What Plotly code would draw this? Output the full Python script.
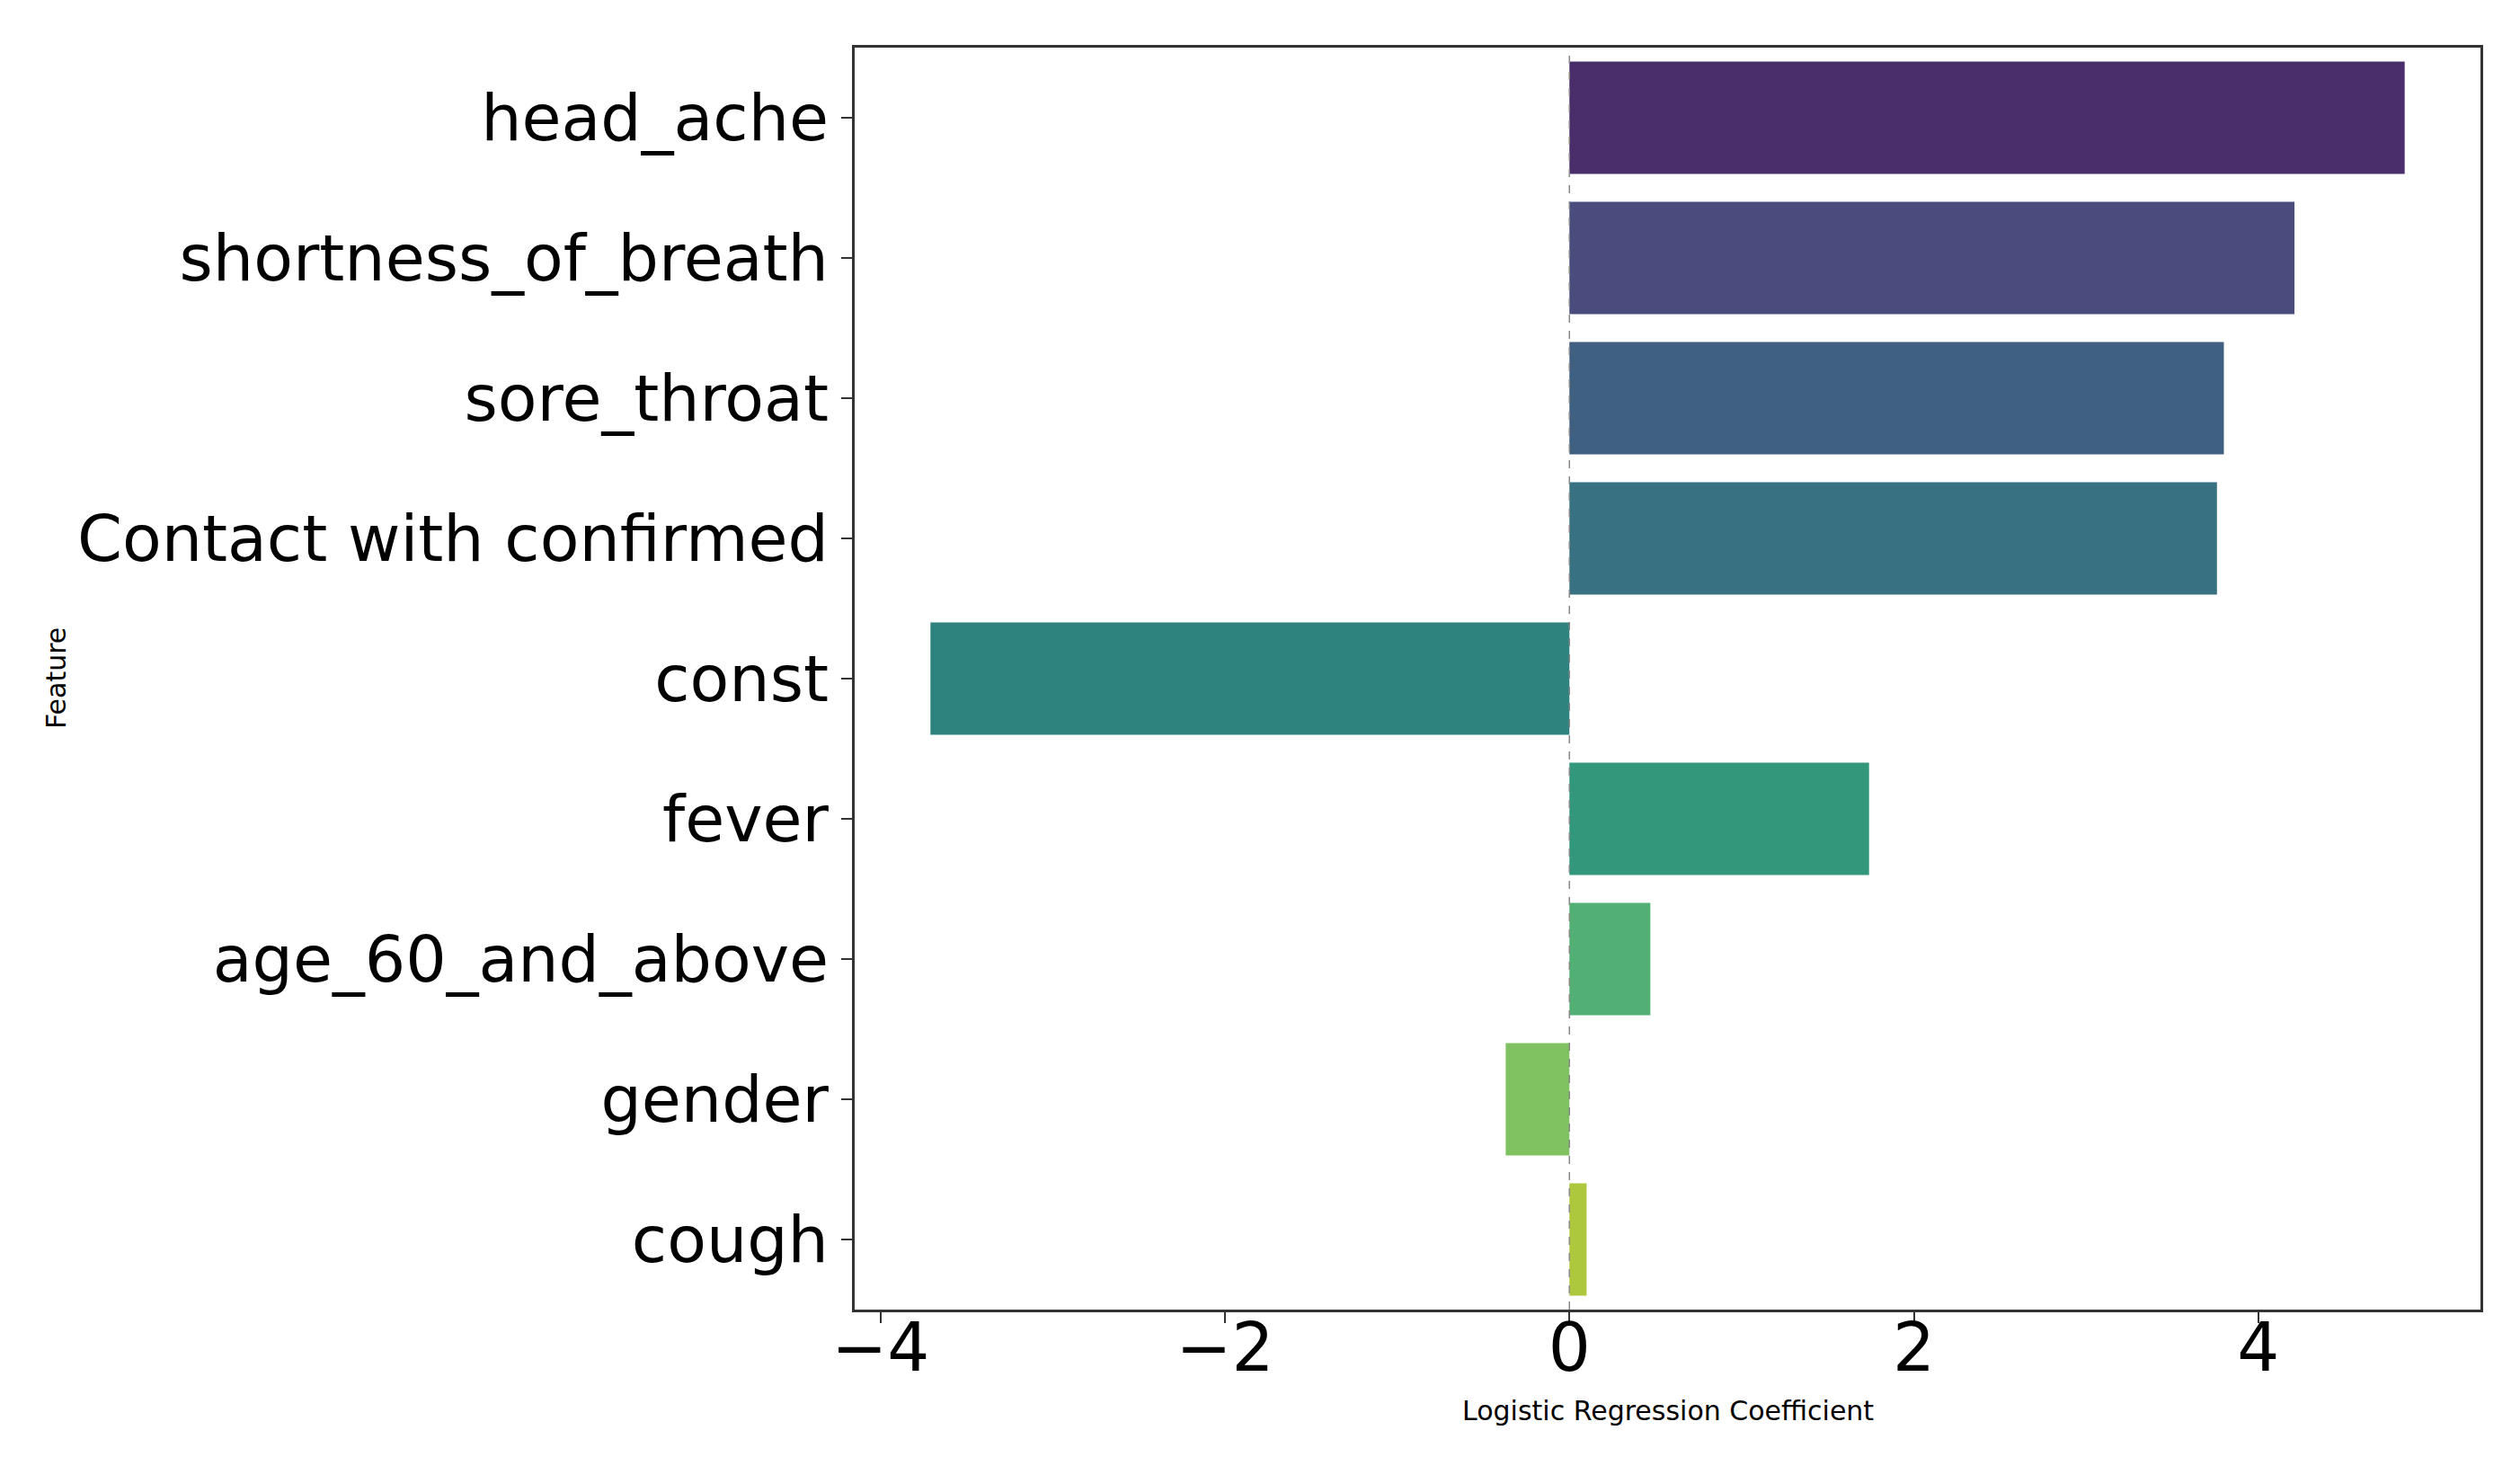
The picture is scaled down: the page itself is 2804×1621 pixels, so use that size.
import colorsys
import plotly.graph_objects as go

features = ["head_ache", "shortness_of_breath", "sore_throat", "Contact with confirmed",
            "const", "fever", "age_60_and_above", "gender", "cough"]
coefficients = [4.85, 4.21, 3.80, 3.76, -3.71, 1.74, 0.47, -0.37, 0.10]
x_ticks = [-4, -2, 0, 2, 4]
x_tick_labels = ["\u22124", "\u22122", "0", "2", "4"]

# viridis sampled like seaborn (9 colours), desaturated to 0.75
viridis_hex = ["#482475", "#414487", "#355f8d", "#2a788e", "#21918c",
               "#22a884", "#44bf70", "#7ad151", "#bddf26"]


def desat(h, p=0.75):
    r, g, b = (int(h[i:i + 2], 16) / 255 for i in (1, 3, 5))
    hh, ll, ss = colorsys.rgb_to_hls(r, g, b)
    r, g, b = colorsys.hls_to_rgb(hh, ll, ss * p)
    return "#%02x%02x%02x" % (round(r * 255), round(g * 255), round(b * 255))


colors = [desat(c) for c in viridis_hex]

fig = go.Figure()
fig.add_trace(go.Bar(
    x=coefficients, y=features, orientation="h",
    marker=dict(color=colors, line=dict(width=0)),
    width=0.8,
))

fig.add_shape(type="line", xref="x", yref="paper", x0=0, x1=0, y0=0, y1=1,
              line=dict(color="#888888", width=1.5, dash="dash"), layer="above")

fig.add_annotation(text="Logistic Regression Coefficient", xref="paper", yref="paper",
                   x=0.5, y=-0.0798, xanchor="center", yanchor="middle",
                   showarrow=False, font=dict(size=30, family="DejaVu Sans", color="black"))
fig.add_annotation(text="Feature", xref="paper", yref="paper", textangle=-90,
                   x=-0.4914, y=0.5, xanchor="center", yanchor="middle",
                   showarrow=False, font=dict(size=30, family="DejaVu Sans", color="black"))

fig.update_layout(
    width=2804, height=1621,
    margin=dict(l=943, r=52, t=45, b=172),
    plot_bgcolor="white", paper_bgcolor="white",
    showlegend=False,
    font=dict(family="DejaVu Sans", color="black"),
    bargap=0.2,
)
fig.update_xaxes(
    range=[-4.15, 5.29],
    tickvals=x_ticks, ticktext=x_tick_labels,
    tickfont=dict(size=74, family="DejaVu Sans"),
    ticks="outside", ticklen=12, tickwidth=2, tickcolor="#333333",
    ticklabelstandoff=-36,
    showline=True, linecolor="#333333", linewidth=2.5, mirror=True,
    showgrid=False, zeroline=False,
)
fig.update_yaxes(
    categoryorder="array", categoryarray=features,
    range=[8.5, -0.5],
    tickfont=dict(size=71.5, family="DejaVu Sans"),
    ticks="outside", ticklen=12, tickwidth=2, tickcolor="#333333",
    showline=True, linecolor="#333333", linewidth=2.5, mirror=True,
    showgrid=False, zeroline=False,
)

fig.write_html("out.html")
